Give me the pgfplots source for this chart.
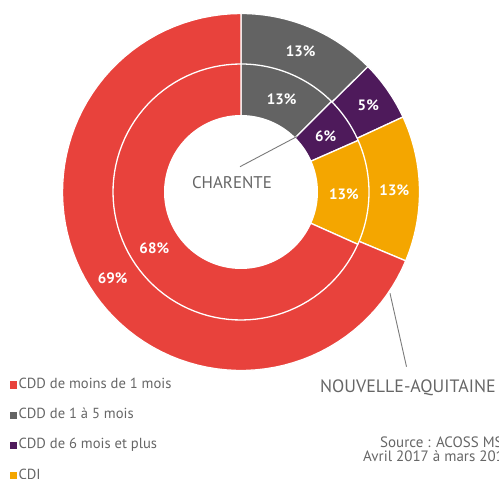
\documentclass[border=0pt]{standalone}
\usepackage{pgfplots}
\pgfplotsset{compat=1.18}
\usepackage{fontspec}
\setmainfont{PT Sans}
\definecolor{cred}{HTML}{E8423C}
\definecolor{cgray}{HTML}{636363}
\definecolor{cpurple}{HTML}{4E1A5B}
\definecolor{corange}{HTML}{F4A600}
\definecolor{ctext}{HTML}{666666}
% wedge: radius, start cumulative %, end cumulative %, colour
\newcommand{\wedgeplot}[4]{%
  \addplot[fill=#4, draw=white, line width=1.3pt, line join=round,
    domain={90-3.6*(#3)}:{90-3.6*(#2)}, samples=80, variable=\t, forget plot]
    ({241+#1*cos(\t)},{287+#1*sin(\t)}) -- (axis cs:241,287) -- cycle;}
\begin{document}
\begin{tikzpicture}
\path[use as bounding box, clip] (0,0) rectangle (499pt,479pt);
\begin{axis}[
  at={(0pt,0pt)}, anchor=origin,
  width=499pt, height=479pt, scale only axis,
  xmin=0, xmax=499, ymin=0, ymax=479,
  hide axis, clip=false,
  legend cell align=left,
  legend style={draw=none, fill=none, at={(axis cs:7,103)}, anchor=north west,
    font=\fontsize{14.6}{14.6}\selectfont\color{ctext},
    nodes={inner sep=0pt, text height=10pt, text depth=3pt},
    row sep=17.3pt, column sep=2pt},
]
% Outer ring: Nouvelle-Aquitaine (values in %)
% CDD 1-5 mois 12.6, CDD 6+ 5.5, CDI 13.2, CDD <1 mois 68.7
\wedgeplot{178.5}{0}{12.6}{cgray}
\wedgeplot{178.5}{12.6}{18.1}{cpurple}
\wedgeplot{178.5}{18.1}{31.3}{corange}
\wedgeplot{178.5}{31.3}{100}{cred}
% Inner ring: Charente
% 12.5, 5.9, 13.3, 68.3
\wedgeplot{128}{0}{12.5}{cgray}
\wedgeplot{128}{12.5}{18.4}{cpurple}
\wedgeplot{128}{18.4}{31.7}{corange}
\wedgeplot{128}{31.7}{100}{cred}
% hole
\addplot[fill=white, draw=none, domain=0:360, samples=120, variable=\t, forget plot]
  ({241+77*cos(\t)},{287+77*sin(\t)}) -- cycle;
% leader lines
\addplot[draw=cgray!85, line width=0.9pt, forget plot] coordinates {(240,312.3) (296.7,342.3)};
\addplot[draw=cgray!85, line width=0.9pt, forget plot] coordinates {(390,185.7) (406.5,112.3)};
% legend
\addlegendimage{only marks, mark=square*, mark size=3.2pt, mark options={draw=cred, fill=cred}}
\addlegendentry{CDD de moins de 1 mois}
\addlegendimage{only marks, mark=square*, mark size=3.2pt, mark options={draw=cgray, fill=cgray}}
\addlegendentry{CDD de 1 à 5 mois}
\addlegendimage{only marks, mark=square*, mark size=3.2pt, mark options={draw=cpurple, fill=cpurple}}
\addlegendentry{CDD de 6 mois et plus}
\addlegendimage{only marks, mark=square*, mark size=3.2pt, mark options={draw=corange, fill=corange}}
\addlegendentry{CDI}
% percentage labels
\begin{scope}[every node/.style={text=white, font=\fontsize{15}{15}\bfseries\selectfont}]
\node at (axis cs:300.7,427.3) {13\%};
\node at (axis cs:281.7,380) {13\%};
\node at (axis cs:368.3,374) {5\%};
\node at (axis cs:325.7,343) {6\%};
\node at (axis cs:344,285) {13\%};
\node at (axis cs:394.3,289) {13\%};
\node at (axis cs:154.3,230.7) {68\%};
\node at (axis cs:112.7,200.7) {69\%};
\end{scope}
% text
\node[anchor=base, text=ctext, font=\fontsize{16.9}{16.9}\selectfont, inner sep=0pt] at (axis cs:232,290.7) {CHARENTE};
\node[anchor=base west, text=ctext, font=\fontsize{17.9}{17.9}\selectfont, inner sep=0pt] at (axis cs:320,86.7) {NOUVELLE-AQUITAINE};
\node[anchor=base west, text=ctext, font=\fontsize{15}{15}\selectfont, inner sep=0pt] at (axis cs:380,31.7) {Source : ACOSS MSA};
\node[anchor=base west, text=ctext, font=\fontsize{15}{15}\selectfont, inner sep=0pt] at (axis cs:363,17.3) {Avril 2017 à mars 2018};
\end{axis}
\end{tikzpicture}
\end{document}
